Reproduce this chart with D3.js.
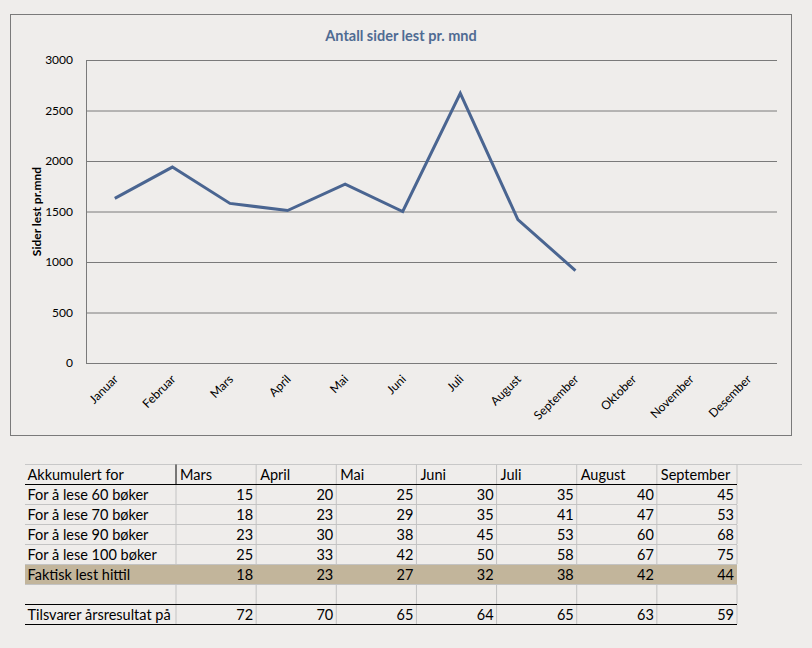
<!DOCTYPE html>
<html>
<head>
<meta charset="utf-8">
<script src="https://cdn.jsdelivr.net/npm/d3@7"></script>
<style>
  body { margin: 0; background: #efedeb; }
  svg { display: block; }
  text { font-family: Lato, "Open Sans", sans-serif; fill: #000; }
</style>
</head>
<body>
<svg id="vi"></svg>
<script>
// chart data
const months = ["Januar", "Februar", "Mars", "April", "Mai", "Juni", "Juli",
  "August", "September", "Oktober", "November", "Desember"];
const pages = [1630, 1940, 1580, 1510, 1770, 1500, 2670, 1420, 915, null, null, null];
const yTicks = [0, 500, 1000, 1500, 2000, 2500, 3000];

// table data
const tableMonths = ["Mars", "April", "Mai", "Juni", "Juli", "August", "September"];
const rowLabels = ["For å lese 60 bøker", "For å lese 70 bøker", "For å lese 90 bøker",
  "For å lese 100 bøker", "Faktisk lest hittil", "", "Tilsvarer årsresultat på"];
const row60 = [15, 20, 25, 30, 35, 40, 45];
const row70 = [18, 23, 29, 35, 41, 47, 53];
const row90 = [23, 30, 38, 45, 53, 60, 68];
const row100 = [25, 33, 42, 50, 58, 67, 75];
const rowActual = [18, 23, 27, 32, 38, 42, 44];
const rowBlank = [null, null, null, null, null, null, null];
const rowYear = [72, 70, 65, 64, 65, 63, 59];
const rowValues = [row60, row70, row90, row100, rowActual, rowBlank, rowYear];

const W = 812, H = 648;
const plot = { left: 86, right: 777, top: 60, bottom: 363 };

function init() {
  const svg = d3.select("#vi").attr("width", W).attr("height", H);
  svg.append("rect").attr("width", W).attr("height", H).attr("fill", "#efedeb");
  createLineChart(svg);
  createTable(svg);
}

function createLineChart(svg) {
  // frame
  svg.append("rect")
    .attr("x", 10.5).attr("y", 14.5)
    .attr("width", 781).attr("height", 421)
    .attr("fill", "#efedeb")
    .attr("stroke", "#7a7a7a");

  svg.append("text")
    .attr("x", 401).attr("y", 41)
    .attr("text-anchor", "middle")
    .style("font-size", "14.5px")
    .style("font-weight", "bold")
    .style("fill", "#4f6b93")
    .text("Antall sider lest pr. mnd");

  const x = d3.scaleBand().domain(months).range([plot.left, plot.right]).padding(0);
  const y = d3.scaleLinear().domain([0, 3000]).range([plot.bottom, plot.top]);

  // gridlines
  svg.append("g")
    .attr("transform", `translate(${plot.left},0)`)
    .call(d3.axisLeft(y).tickValues(yTicks).tickSize(-(plot.right - plot.left)).tickFormat(""))
    .call(g => g.select(".domain").remove())
    .call(g => g.selectAll("line").attr("stroke", "#7a7a7a"));

  // y axis
  svg.append("g")
    .attr("transform", `translate(${plot.left},0)`)
    .call(d3.axisLeft(y).tickValues(yTicks).tickSize(0).tickPadding(13).tickFormat(d3.format("d")))
    .call(g => g.select(".domain").attr("stroke", "#7a7a7a"))
    .call(g => g.selectAll("text")
      .style("font-size", "12px")
      .style("font-family", "Lato, sans-serif"));

  // x axis
  svg.append("g")
    .attr("transform", `translate(0,${plot.bottom})`)
    .call(d3.axisBottom(x).tickSize(0).tickPadding(0))
    .call(g => g.select(".domain").remove())
    .call(g => g.selectAll("text")
      .attr("text-anchor", "end")
      .attr("transform", "translate(1,14) rotate(-45)")
      .attr("dy", "0.35em")
      .attr("y", 0)
      .style("font-size", "12px")
      .style("font-family", "Lato, sans-serif"));

  svg.append("text")
    .attr("transform", `translate(41,${(plot.top + plot.bottom) / 2}) rotate(-90)`)
    .attr("text-anchor", "middle")
    .style("font-size", "12px")
    .style("font-weight", "bold")
    .text("Sider lest pr.mnd");

  const line = d3.line()
    .defined(d => d != null)
    .x((d, i) => x(months[i]) + x.bandwidth() / 2)
    .y(d => y(d));

  svg.append("path")
    .datum(pages)
    .attr("d", line)
    .attr("fill", "none")
    .attr("stroke", "#4a6591")
    .attr("stroke-width", 3)
    .attr("stroke-linejoin", "miter");
}

function createTable(svg) {
  const left = 25, labelRight = 176, right = 737;
  const rowKeys = ["header"].concat(rowLabels.map((d, i) => "r" + i));
  const col = d3.scaleBand().domain(tableMonths).range([labelRight, right]);
  const row = d3.scaleBand().domain(rowKeys).range([464.5, 624.5]);
  const rh = row.bandwidth();
  const g = svg.append("g");

  // highlighted row
  g.append("rect")
    .attr("x", left).attr("y", row("r4"))
    .attr("width", right - left).attr("height", rh)
    .attr("fill", "#c2b59b");

  // horizontal grid
  g.selectAll("line.h")
    .data(rowKeys.slice(1).concat(["end"]))
    .enter()
    .append("line")
    .attr("x1", left).attr("x2", right)
    .attr("y1", d => d == "end" ? row.range()[1] : row(d))
    .attr("y2", d => d == "end" ? row.range()[1] : row(d))
    .attr("stroke", d => (d == "r0" || d == "r6" || d == "end") ? "#000" : "#c3c3c3");

  g.append("line")
    .attr("x1", left).attr("x2", 802)
    .attr("y1", row("header")).attr("y2", row("header"))
    .attr("stroke", "#c8c8c8");

  // vertical grid (skipping the highlighted row)
  const vx = [labelRight].concat(tableMonths.map(m => col(m) + col.bandwidth()));
  rowKeys.forEach(k => {
    if (k == "r4") return;
    g.selectAll(null)
      .data(vx)
      .enter()
      .append("line")
      .attr("x1", d => d).attr("x2", d => d)
      .attr("y1", row(k) + (k == "header" ? 0 : 0.5))
      .attr("y2", row(k) + rh - 0.5)
      .attr("stroke", (d, i) => (k == "header" && i == 0) ? "#000" : "#c3c3c3");
  });

  // header
  g.append("text")
    .attr("x", left + 2.5).attr("y", row("header") + rh - 4.5)
    .style("font-size", "14.5px")
    .text("Akkumulert for");
  g.selectAll("text.month")
    .data(tableMonths)
    .enter()
    .append("text")
    .attr("x", d => col(d) + 4)
    .attr("y", row("header") + rh - 4.5)
    .style("font-size", "14.5px")
    .text(d => d);

  // rows
  rowLabels.forEach((label, i) => {
    const ry = row("r" + i) + rh - 4.5;
    g.append("text")
      .attr("x", left + 2.5).attr("y", ry)
      .style("font-size", "14.5px")
      .text(label);
    g.selectAll(null)
      .data(rowValues[i])
      .enter()
      .append("text")
      .attr("x", (d, j) => col(tableMonths[j]) + col.bandwidth() - 3)
      .attr("y", ry)
      .attr("text-anchor", "end")
      .style("font-size", "14.5px")
      .text(d => d == null ? "" : d);
  });
}

init();
</script>
</body>
</html>
